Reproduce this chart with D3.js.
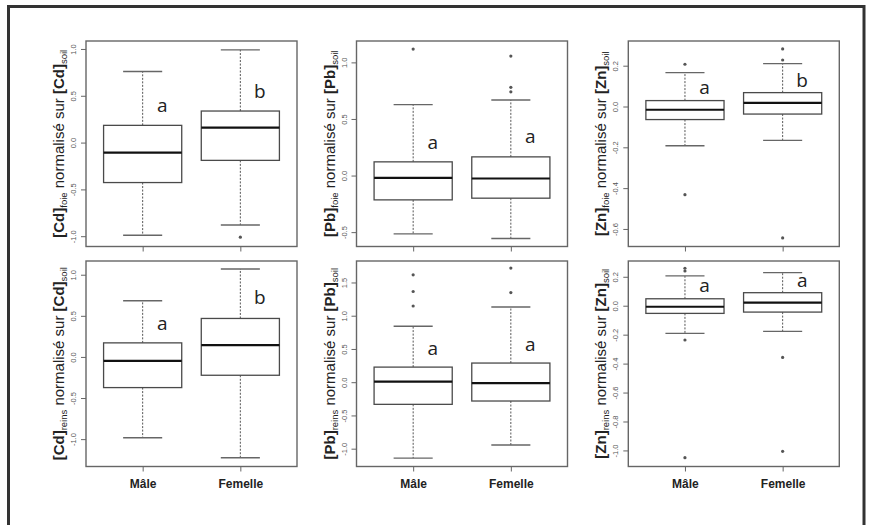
<!DOCTYPE html>
<html><head><meta charset="utf-8">
<script src="https://cdn.jsdelivr.net/npm/d3@7"></script>
<style>body{margin:0;background:#fff}svg{display:block}</style>
</head><body>
<svg id="c" width="869" height="525"></svg>
<script>
// ---------------- data ----------------
const categories = ["Mâle", "Femelle"];
const metals = ["Cd", "Pb", "Zn", "Cd", "Pb", "Zn"];
const tissues = ["foie", "foie", "foie", "reins", "reins", "reins"];

// five-number summaries: [lower whisker, Q1, median, Q3, upper whisker], [Mâle, Femelle]
const cdFoieStats  = [[-0.99, -0.427, -0.107, 0.184, 0.76], [-0.88, -0.19, 0.16, 0.337, 0.99]];
const pbFoieStats  = [[-0.515, -0.215, -0.02, 0.121, 0.627], [-0.556, -0.2, -0.026, 0.165, 0.668]];
const znFoieStats  = [[-0.192, -0.064, -0.016, 0.029, 0.166], [-0.166, -0.037, 0.018, 0.068, 0.21]];
const cdReinsStats = [[-0.983, -0.373, -0.049, 0.171, 0.683], [-1.227, -0.223, 0.143, 0.468, 1.07]];
const pbReinsStats = [[-1.142, -0.333, 0.01, 0.227, 0.842], [-0.944, -0.283, -0.015, 0.288, 1.13]];
const znReinsStats = [[-0.191, -0.053, -0.007, 0.048, 0.206], [-0.177, -0.044, 0.021, 0.09, 0.229]];

// outliers [Mâle, Femelle]
const cdFoieOut  = [[], [-1.01]];
const pbFoieOut  = [[1.118], [0.74, 0.78, 1.056]];
const znFoieOut  = [[0.207, -0.432], [0.228, 0.282, -0.644]];
const cdReinsOut = [[], []];
const pbReinsOut = [[1.146, 1.364, 1.615], [1.348, 1.717]];
const znReinsOut = [[0.24, 0.259, -0.237, -1.05], [-0.357, -1.006]];

// significance letters and their baseline value
const letters = [["a", "b"], ["a", "a"], ["a", "b"], ["a", "b"], ["a", "a"], ["a", "a"]];
const letterValues = [[0.326, 0.48], [0.236, 0.286], [0.062, 0.095], [0.326, 0.643], [0.41, 0.474], [0.093, 0.127]];

// y axis limits and ticks
const yLimits = [[-1.11, 1.085], [-0.627, 1.189], [-0.686, 0.321], [-1.333, 1.167], [-1.268, 1.823], [-1.111, 0.309]];
const yTicks = [
  [-1, -0.5, 0, 0.5, 1],
  [-0.5, 0, 0.5, 1],
  [-0.6, -0.4, -0.2, 0, 0.2],
  [-1, -0.5, 0, 0.5, 1],
  [-1, -0.5, 0, 0.5, 1, 1.5],
  [-1, -0.8, -0.6, -0.4, -0.2, 0, 0.2]
];

const statsByPanel = [cdFoieStats, pbFoieStats, znFoieStats, cdReinsStats, pbReinsStats, znReinsStats];
const outByPanel = [cdFoieOut, pbFoieOut, znFoieOut, cdReinsOut, pbReinsOut, znReinsOut];

// ---------------- drawing ----------------
const svg = d3.select("#c");
svg.append("rect").attr("width", 869).attr("height", 525).attr("fill", "#fff");
svg.append("rect").attr("x", 8.5).attr("y", 6.5).attr("width", 855.5).attr("height", 560)
  .attr("fill", "none").attr("stroke", "#333").attr("stroke-width", 3);

const colLeft = [86, 356.5, 628.3];
const rowTop = [41, 261];
const pw = 211, ph = 205.5;

statsByPanel.forEach((stats, p) => {
  const col = p % 3, row = Math.floor(p / 3);
  const left = colLeft[col], top = rowTop[row];
  const g = svg.append("g");
  const x = d3.scaleLinear().domain([0.42, 2.58]).range([left, left + pw]);
  const y = d3.scaleLinear().domain(yLimits[p]).range([top + ph, top]);

  // y axis
  const yAxis = d3.axisLeft(y).tickValues(yTicks[p]).tickSize(5).tickPadding(3)
    .tickFormat(d => d.toFixed(1));
  const ya = g.append("g").attr("transform", `translate(${left},0)`).call(yAxis);
  ya.select(".domain").remove();
  ya.selectAll(".tick line").attr("stroke", "#666").attr("stroke-width", 1);
  ya.selectAll(".tick text")
    .attr("font-family", "Liberation Sans, Arial, sans-serif")
    .attr("font-size", 7.5).attr("fill", "#555")
    .attr("text-anchor", "middle")
    .attr("x", null).attr("dy", null)
    .attr("transform", "translate(-10,0) rotate(-90)");

  // x axis ticks
  const xAxis = d3.axisBottom(x).tickValues([1, 2]).tickSize(5)
    .tickFormat(d => row === 1 ? categories[d - 1] : "");
  const xa = g.append("g").attr("transform", `translate(0,${top + ph})`).call(xAxis);
  xa.select(".domain").remove();
  xa.selectAll(".tick line").attr("stroke", "#666");
  xa.selectAll(".tick text")
    .attr("font-family", "Liberation Sans, Arial, sans-serif")
    .attr("font-weight", "bold").attr("font-size", 12).attr("fill", "#222")
    .attr("y", 21).attr("dy", null);

  // plot box
  g.append("rect").attr("x", left).attr("y", top).attr("width", pw).attr("height", ph)
    .attr("fill", "none").attr("stroke", "#666").attr("stroke-width", 1.4);

  stats.forEach((s, i) => {
    const cx = x(i + 1);
    const bw = x(i + 1.4) - x(i + 1);
    const cw = x(i + 1.2) - x(i + 1);
    const [lo, q1, med, q3, hi] = s;
    // whiskers dashed
    g.append("line").attr("x1", cx).attr("x2", cx).attr("y1", y(q3)).attr("y2", y(hi))
      .attr("stroke", "#555").attr("stroke-width", 1).attr("stroke-dasharray", "2,1.5");
    g.append("line").attr("x1", cx).attr("x2", cx).attr("y1", y(q1)).attr("y2", y(lo))
      .attr("stroke", "#555").attr("stroke-width", 1).attr("stroke-dasharray", "2,1.5");
    // caps
    [lo, hi].forEach(v => g.append("line").attr("x1", cx - cw).attr("x2", cx + cw)
      .attr("y1", y(v)).attr("y2", y(v)).attr("stroke", "#666").attr("stroke-width", 1.4));
    // box
    g.append("rect").attr("x", cx - bw).attr("y", y(q3)).attr("width", 2 * bw)
      .attr("height", y(q1) - y(q3)).attr("fill", "#fff")
      .attr("stroke", "#4a4a4a").attr("stroke-width", 1.3);
    // median
    g.append("line").attr("x1", cx - bw).attr("x2", cx + bw).attr("y1", y(med)).attr("y2", y(med))
      .attr("stroke", "#111").attr("stroke-width", 2.2);
    // outliers
    outByPanel[p][i].forEach(v => g.append("circle").attr("cx", cx).attr("cy", y(v))
      .attr("r", 1.6).attr("fill", "#555"));
    // letter
    g.append("text").attr("x", x(i + 1.2)).attr("y", y(letterValues[p][i]))
      .attr("text-anchor", "middle")
      .attr("font-family", "Open Sans, sans-serif").attr("font-size", 19).attr("fill", "#222")
      .text(letters[p][i]);
  });

  // y label
  const lab = g.append("text")
    .attr("transform", `translate(${left - 22},${top + ph / 2}) rotate(-90)`)
    .attr("text-anchor", "middle")
    .attr("font-family", "Liberation Sans, Arial, sans-serif").attr("font-size", 15).attr("fill", "#222");
  lab.append("tspan").attr("font-weight", "bold").text(`[${metals[p]}]`);
  lab.append("tspan").attr("font-size", 9.5).attr("dy", 3).text(tissues[p]);
  lab.append("tspan").attr("dy", -3).text(" normalisé sur ");
  lab.append("tspan").attr("font-weight", "bold").text(`[${metals[p]}]`);
  lab.append("tspan").attr("font-size", 9.5).attr("dy", 3).text("soil");
});
</script>
</body></html>
